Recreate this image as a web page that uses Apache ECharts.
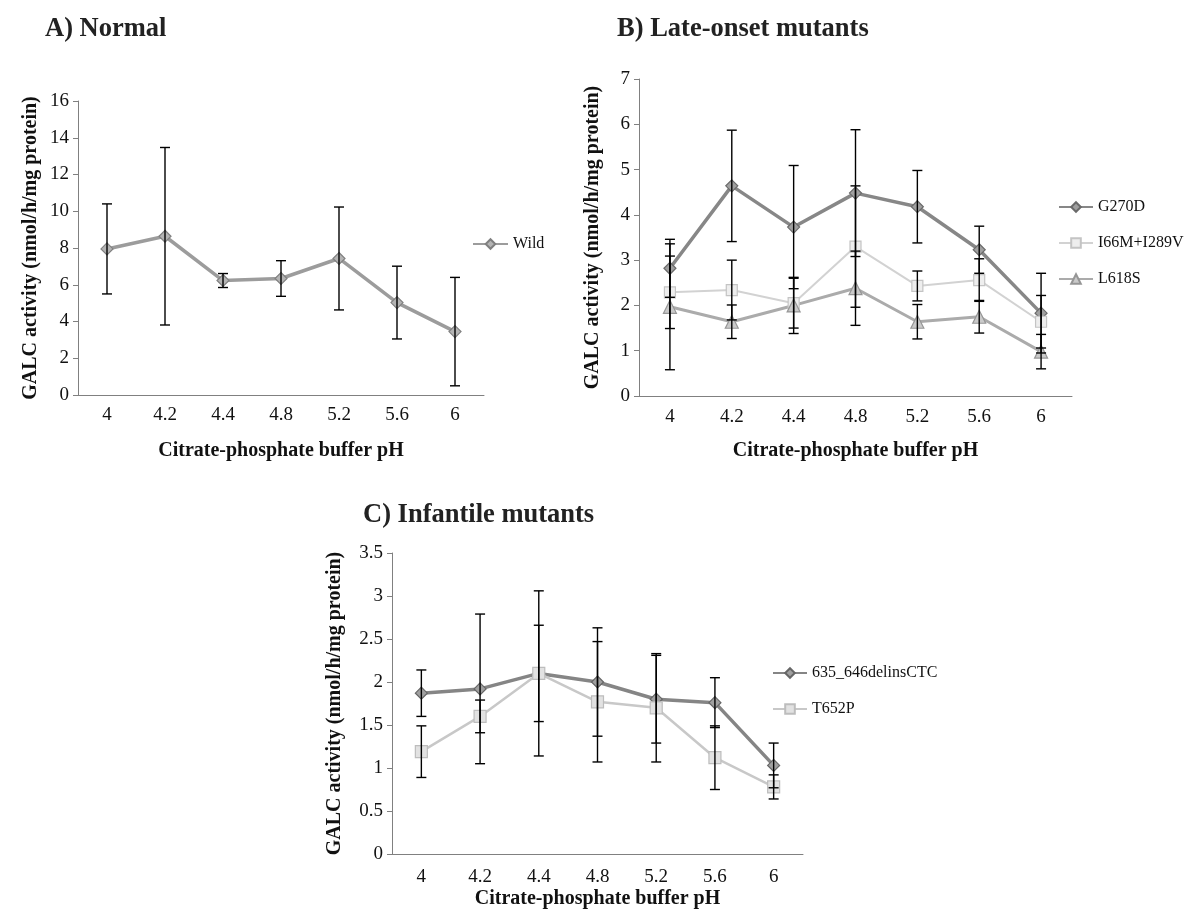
<!DOCTYPE html>
<html>
<head>
<meta charset="utf-8">
<script src="https://cdn.jsdelivr.net/npm/echarts@6/dist/echarts.min.js"></script>
<style>
html, body { margin: 0; padding: 0; background: #fff; }
#chart { width: 1189px; height: 915px; }
</style>
</head>
<body>
<div id="chart"></div>
<script>
// pH categories (same for all three panels)
const phLabels = ['4', '4.2', '4.4', '4.8', '5.2', '5.6', '6'];

// A) Normal
const wild = [7.95, 8.64, 6.23, 6.34, 7.43, 5.03, 3.45];
const wildErr = [2.45, 4.83, 0.38, 0.97, 2.8, 1.98, 2.95];

// B) Late-onset mutants
const g270d = [2.82, 4.64, 3.73, 4.48, 4.18, 3.23, 1.83];
const g270dErr = [0.64, 1.23, 1.36, 1.4, 0.8, 0.52, 0.88];
const i66m = [2.29, 2.34, 2.05, 3.3, 2.43, 2.56, 1.64];
const i66mErr = [0.8, 0.66, 0.55, 1.34, 0.33, 0.47, 0.58];
const l618s = [1.97, 1.64, 2.0, 2.38, 1.64, 1.75, 0.98];
const l618sErr = [1.39, 0.37, 0.62, 0.82, 0.38, 0.36, 0.38];

// C) Infantile mutants
const del635 = [1.87, 1.92, 2.1, 2.0, 1.8, 1.76, 1.03];
const del635Err = [0.27, 0.87, 0.96, 0.63, 0.51, 0.29, 0.26];
const t652p = [1.19, 1.6, 2.1, 1.77, 1.7, 1.12, 0.78];
const t652pErr = [0.3, 0.19, 0.56, 0.7, 0.63, 0.37, 0.14];

const serif = 'Liberation Serif';
const chart = echarts.init(document.getElementById('chart'));

// vertical error bar with caps
function errorBarItem(params, api) {
  const x = api.value(0);
  const lo = api.coord([x, api.value(1)]);
  const hi = api.coord([x, api.value(2)]);
  const w = 5;
  const style = { stroke: '#000', lineWidth: 1.4 };
  return {
    type: 'group',
    children: [
      { type: 'line', shape: { x1: hi[0], y1: hi[1], x2: lo[0], y2: lo[1] }, style: style },
      { type: 'line', shape: { x1: hi[0] - w, y1: hi[1], x2: hi[0] + w, y2: hi[1] }, style: style },
      { type: 'line', shape: { x1: lo[0] - w, y1: lo[1], x2: lo[0] + w, y2: lo[1] }, style: style }
    ]
  };
}

function errSeries(idx, vals, errs) {
  return {
    type: 'custom',
    xAxisIndex: idx,
    yAxisIndex: idx,
    renderItem: errorBarItem,
    z: 5,
    silent: true,
    data: vals.map((v, i) => [i, v - errs[i], v + errs[i]])
  };
}

function lineSeries(idx, name, vals, opts) {
  return {
    name: name,
    type: 'line',
    xAxisIndex: idx,
    yAxisIndex: idx,
    data: vals,
    symbol: opts.symbol,
    symbolSize: opts.size,
    z: 3,
    lineStyle: { color: opts.line, width: opts.width },
    itemStyle: { color: opts.fill, borderColor: opts.border, borderWidth: 1.2 }
  };
}

function xAx(idx, nameGap, labelMargin) {
  return {
    type: 'category',
    gridIndex: idx,
    data: phLabels,
    name: 'Citrate-phosphate buffer pH',
    nameLocation: 'middle',
    nameGap: nameGap,
    nameTextStyle: { fontFamily: serif, fontWeight: 'bold', fontSize: 20, color: '#111' },
    axisLine: { lineStyle: { color: '#808080', width: 1 } },
    axisTick: { length: 4, lineStyle: { color: '#808080' } },
    axisLabel: { margin: labelMargin, fontFamily: serif, fontSize: 19, color: '#111' },
    splitLine: { show: false }
  };
}

function yAx(idx, max, interval, nameGap) {
  return {
    type: 'value',
    gridIndex: idx,
    min: 0,
    max: max,
    interval: interval,
    name: 'GALC activity (nmol/h/mg protein)',
    nameLocation: 'middle',
    nameGap: nameGap,
    nameTextStyle: { fontFamily: serif, fontWeight: 'bold', fontSize: 20, color: '#111' },
    axisLine: { show: true, lineStyle: { color: '#808080', width: 1 } },
    axisTick: { show: true, length: 5, lineStyle: { color: '#808080' } },
    axisLabel: { margin: 9, fontFamily: serif, fontSize: 19, color: '#111' },
    splitLine: { show: false }
  };
}

const titleStyle = { fontFamily: serif, fontWeight: 'bold', fontSize: 26.5, color: '#222' };
const legendText = { fontFamily: serif, fontSize: 16, color: '#111' };

const option = {
  animation: false,
  backgroundColor: '#fff',
  title: [
    { text: 'A) Normal', left: 45, top: 16, padding: 0, textStyle: titleStyle },
    { text: 'B) Late-onset mutants', left: 617, top: 16, padding: 0, textStyle: titleStyle },
    { text: 'C) Infantile mutants', left: 363, top: 502, padding: 0, textStyle: titleStyle }
  ],
  legend: [
    { data: ['Wild'], left: 472, top: 236, padding: 0, orient: 'vertical', itemWidth: 35, itemHeight: 12, textStyle: legendText },
    { data: ['G270D', 'I66M+I289V', 'L618S'], left: 1058, top: 199, padding: 0, orient: 'vertical', itemGap: 20, itemWidth: 34, itemHeight: 12, textStyle: legendText },
    { data: ['635_646delinsCTC', 'T652P'], left: 772, top: 665, padding: 0, orient: 'vertical', itemGap: 20, itemWidth: 34, itemHeight: 12, textStyle: legendText }
  ],
  grid: [
    { left: 78, top: 101, width: 406, height: 294 },
    { left: 639, top: 79, width: 433, height: 317 },
    { left: 392, top: 553, width: 411, height: 301 }
  ],
  xAxis: [xAx(0, 46, 11), xAx(1, 45, 12), xAx(2, 35, 14)],
  yAxis: [yAx(0, 16, 2, 37), yAx(1, 7, 1, 36), yAx(2, 3.5, 0.5, 47)],
  series: [
    lineSeries(0, 'Wild', wild, { symbol: 'diamond', size: 12, line: '#9c9c9c', width: 3.5, fill: '#b4b4b4', border: '#808080' }),
    errSeries(0, wild, wildErr),

    lineSeries(1, 'G270D', g270d, { symbol: 'diamond', size: 12, line: '#878787', width: 3.5, fill: '#a0a0a0', border: '#6a6a6a' }),
    lineSeries(1, 'I66M+I289V', i66m, { symbol: 'rect', size: 11, line: '#d2d2d2', width: 2, fill: '#eeeeee', border: '#c4c4c4' }),
    lineSeries(1, 'L618S', l618s, { symbol: 'triangle', size: 13, line: '#ababab', width: 3, fill: '#cacaca', border: '#969696' }),
    errSeries(1, g270d, g270dErr),
    errSeries(1, i66m, i66mErr),
    errSeries(1, l618s, l618sErr),

    lineSeries(2, '635_646delinsCTC', del635, { symbol: 'diamond', size: 12, line: '#858585', width: 3.5, fill: '#a0a0a0', border: '#666' }),
    lineSeries(2, 'T652P', t652p, { symbol: 'rect', size: 12, line: '#c8c8c8', width: 2.5, fill: '#e2e2e2', border: '#bdbdbd' }),
    errSeries(2, del635, del635Err),
    errSeries(2, t652p, t652pErr)
  ]
};

chart.setOption(option);
</script>
</body>
</html>
